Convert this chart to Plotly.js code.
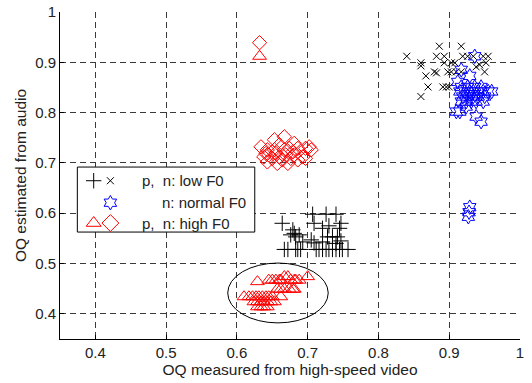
<!DOCTYPE html>
<html>
<head>
<meta charset="utf-8">
<script src="https://cdn.plot.ly/plotly-3.0.1.min.js"></script>
<style>html,body{margin:0;padding:0;background:#fff;}#chart{width:532px;height:383px;}</style>
</head>
<body>
<div id="chart"></div>
<script>
// ---- data ----
const lowP_x = [0.707,0.726,0.740,0.664,0.709,0.747,0.721,0.730,0.745,0.679,0.681,0.683,0.676,0.688,0.693,0.705,0.709,0.728,0.735,0.742,0.747,0.721,0.740,0.667,0.672,0.683,0.686,0.690,0.712,0.716,0.721,0.726,0.730,0.735,0.740,0.745,0.749,0.757];
const lowP_y = [0.598,0.598,0.598,0.580,0.580,0.580,0.570,0.575,0.570,0.567,0.560,0.553,0.557,0.557,0.543,0.547,0.541,0.553,0.553,0.553,0.545,0.543,0.540,0.528,0.528,0.528,0.528,0.528,0.528,0.528,0.528,0.528,0.528,0.528,0.528,0.528,0.528,0.528];

const lowN_x = [0.840,0.886,0.917,0.882,0.893,0.919,0.926,0.934,0.948,0.955,0.860,0.860,0.893,0.903,0.908,0.943,0.952,0.938,0.950,0.867,0.879,0.882,0.898,0.903,0.910,0.917,0.870,0.891,0.896,0.900,0.860];
const lowN_y = [0.912,0.932,0.932,0.912,0.912,0.912,0.912,0.912,0.912,0.912,0.899,0.893,0.899,0.899,0.899,0.895,0.899,0.891,0.881,0.873,0.881,0.879,0.881,0.881,0.881,0.881,0.851,0.851,0.851,0.851,0.832];

const normN_x = [0.936,0.917,0.929,0.912,0.917,0.926,0.936,0.945,0.915,0.922,0.929,0.934,0.941,0.948,0.955,0.919,0.926,0.934,0.941,0.950,0.917,0.924,0.931,0.938,0.948,0.960,0.915,0.924,0.910,0.938,0.945,0.929,0.928,0.927];
const normN_y = [0.912,0.885,0.873,0.861,0.851,0.851,0.851,0.851,0.842,0.842,0.842,0.842,0.842,0.842,0.842,0.832,0.832,0.832,0.832,0.832,0.822,0.822,0.822,0.822,0.822,0.842,0.802,0.812,0.802,0.792,0.782,0.612,0.602,0.593];

const highP_x = [0.632,0.629,0.645,0.650,0.655,0.660,0.662,0.667,0.672,0.676,0.681,0.683,0.688,0.700,0.657,0.662,0.667,0.674,0.679,0.681,0.610,0.617,0.622,0.627,0.631,0.636,0.641,0.645,0.650,0.662,0.624,0.629,0.634,0.638,0.643,0.648,0.653,0.629,0.634,0.638,0.643];
const highP_y = [0.912,0.464,0.467,0.467,0.467,0.467,0.467,0.474,0.474,0.467,0.467,0.467,0.467,0.474,0.449,0.449,0.449,0.449,0.449,0.449,0.434,0.434,0.434,0.434,0.434,0.434,0.434,0.434,0.434,0.434,0.424,0.424,0.424,0.424,0.424,0.424,0.424,0.414,0.414,0.414,0.414];

const highN_x = [0.632,0.634,0.643,0.653,0.667,0.660,0.674,0.681,0.686,0.697,0.702,0.638,0.645,0.650,0.655,0.660,0.664,0.669,0.676,0.681,0.686,0.693,0.697,0.643,0.657,0.672,0.641,0.653,0.667,0.679,0.705];
const highN_y = [0.939,0.732,0.726,0.746,0.752,0.736,0.729,0.739,0.729,0.729,0.732,0.712,0.716,0.709,0.719,0.712,0.706,0.716,0.709,0.716,0.706,0.712,0.709,0.702,0.699,0.699,0.719,0.726,0.726,0.722,0.726];

// ellipse drawn around the high-F0 triangles: [x0, x1], [y0, y1]
const ellipseX = [0.587, 0.729];
const ellipseY = [0.382, 0.501];

// legend labels
const legendLabels = ["p,  n: low F0", "n: normal F0", "p,  n: high F0"];

// ---- styles / layout ----
const FONT = "Liberation Sans, Arial, sans-serif";
const RED = "#ff0000", BLUE = "#0000ff", BLACK = "#000000";
const TXT = "#222";

function series(x, y, symbol, color, size) {
  return {x: x, y: y, type: "scatter", mode: "markers", showlegend: false, hoverinfo: "skip",
    marker: {symbol: symbol, size: size, color: color, line: {color: color, width: 1}}};
}

// legend key positions (layout, in axis units)
const keyCol = [0.3976, 0.4212];
const keyRow = [0.6646, 0.6209, 0.5805];

const traces = [
  series(lowP_x, lowP_y, "cross-thin-open", BLACK, 11),
  series(lowN_x, lowN_y, "x-thin-open", BLACK, 7),
  series(highN_x, highN_y, "diamond-open", RED, 11),
  series(highP_x, highP_y, "triangle-up-open", RED, 12),
  series(normN_x, normN_y, "hexagram-open", BLUE, 11),
  // legend keys
  series([keyCol[0]], [keyRow[0]], "cross-thin-open", BLACK, 11),
  series([keyCol[1]], [keyRow[0]], "x-thin-open", BLACK, 7),
  series([keyCol[1]], [keyRow[1]], "hexagram-open", BLUE, 11),
  series([keyCol[0]], [keyRow[2]], "triangle-up-open", RED, 13),
  series([keyCol[1]], [keyRow[2]], "diamond-open", RED, 13)
];

const axisCommon = {
  showline: true, linecolor: BLACK, linewidth: 1, mirror: false,
  ticks: "inside", ticklen: 4, tickcolor: BLACK,
  showgrid: true, gridcolor: "#3a3a3a", gridwidth: 1, griddash: "6px,4px",
  zeroline: false, dtick: 0.1,
  tickfont: {family: FONT, size: 15, color: TXT}
};

const layout = {
  width: 532, height: 383,
  margin: {l: 60, r: 12, t: 12, b: 44},
  paper_bgcolor: "#fff", plot_bgcolor: "#fff",
  showlegend: false,
  xaxis: Object.assign({}, axisCommon, {range: [0.35, 1], tick0: 0.4,
    title: {text: "OQ measured from high-speed video", font: {family: FONT, size: 15.5, color: TXT}, standoff: 4}}),
  yaxis: Object.assign({}, axisCommon, {range: [0.35, 1], tick0: 0.4,
    title: {text: "OQ estimated from audio", font: {family: FONT, size: 15.5, color: TXT}, standoff: 4}}),
  shapes: [
    {type: "rect", xref: "x", yref: "y", x0: 0.3745, x1: 0.6252, y0: 0.5626, y1: 0.6918,
     line: {color: BLACK, width: 1}, fillcolor: "#fff", layer: "between"},
    {type: "circle", xref: "x", yref: "y", x0: ellipseX[0], x1: ellipseX[1], y0: ellipseY[0], y1: ellipseY[1],
     line: {color: BLACK, width: 1}, layer: "above"}
  ],
  annotations: [
    {text: legendLabels[0], x: 0.4637, y: keyRow[0], xanchor: "left"},
    {text: legendLabels[1], x: 0.4920, y: keyRow[1], xanchor: "left"},
    {text: legendLabels[2], x: 0.4637, y: keyRow[2], xanchor: "left"}
  ].map(a => Object.assign(a, {xref: "x", yref: "y", yanchor: "middle", showarrow: false,
      font: {family: FONT, size: 15, color: TXT}}))
};

Plotly.newPlot("chart", traces, layout, {staticPlot: true, displayModeBar: false});
</script>
</body>
</html>
